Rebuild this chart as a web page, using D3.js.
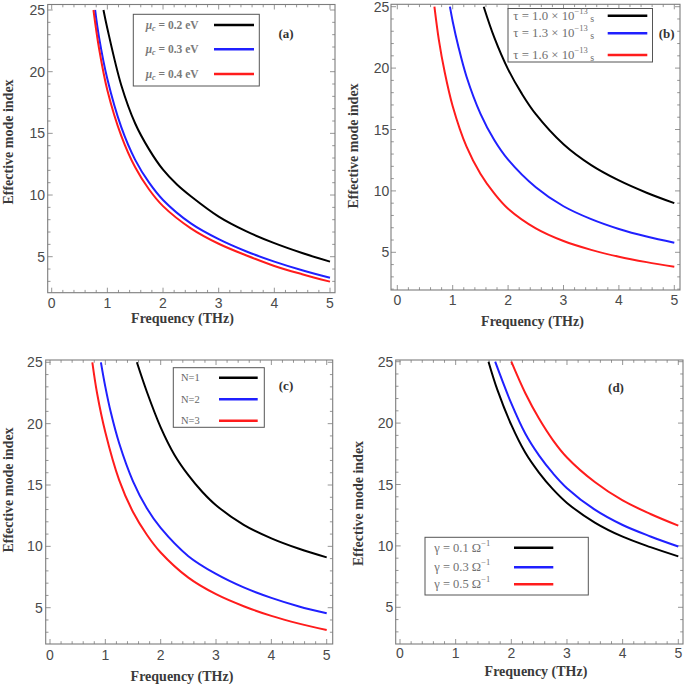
<!DOCTYPE html>
<html><head><meta charset="utf-8">
<script src="https://cdn.jsdelivr.net/npm/d3@7"></script>
<style>body{margin:0;background:#fff}</style>
</head><body>
<svg id="chart" width="685" height="684"></svg>
<script>
// ---------- data ----------
const xTicks = [0, 1, 2, 3, 4, 5];
const yTicks = [5, 10, 15, 20, 25];
const xTitle = "Frequency (THz)";
const yTitle = "Effective mode index";
const panelTags = ["(a)", "(b)", "(c)", "(d)"];

// (a) chemical potential
const aValues = ["0.2", "0.3", "0.4"];
const a_mu02 = [[0.93,25],[1.0,23.5],[1.25,18.9],[1.5,15.8],[1.75,13.7],[2,12.05],[2.25,10.85],[2.5,9.9],[3,8.25],[3.5,7.05],[4,6.1],[4.5,5.3],[5,4.6]];
const a_mu03 = [[0.78,25],[0.85,22.8],[1,19.4],[1.25,15.5],[1.5,12.85],[1.75,11.0],[2,9.6],[2.5,7.7],[3,6.42],[3.5,5.42],[4,4.6],[4.5,3.9],[5,3.3]];
const a_mu04 = [[0.75,25],[0.85,21.9],[1,18.5],[1.25,14.8],[1.5,12.25],[1.75,10.45],[2,9.1],[2.5,7.3],[3,6.05],[3.5,5.1],[4,4.25],[4.5,3.58],[5,2.98]];

// (b) relaxation time
const bValues = ["1.0", "1.3", "1.6"];
const b_tau10 = [[1.56,25],[1.75,22.5],[2,19.9],[2.25,17.9],[2.5,16.25],[3,13.8],[3.5,12.1],[4,10.85],[4.5,9.85],[5,9.0]];
const b_tau13 = [[0.95,25],[1,23.8],[1.1,21.8],[1.25,19.3],[1.5,16.3],[1.75,14.15],[2,12.55],[2.5,10.3],[3,8.75],[3.5,7.7],[4,6.9],[4.5,6.28],[5,5.78]];
const b_tau16 = [[0.67,25],[0.75,22.3],[0.85,19.8],[1,16.9],[1.25,13.6],[1.5,11.4],[1.75,9.8],[2,8.55],[2.5,6.95],[3,5.92],[3.5,5.2],[4,4.64],[4.5,4.2],[5,3.83]];

// (c) number of layers
const cValues = ["1", "2", "3"];
const c_N1 = [[1.57,25],[1.75,22.6],[2,19.7],[2.25,17.45],[2.5,15.8],[2.75,14.45],[3,13.35],[3.5,11.75],[4,10.65],[4.5,9.8],[5,9.1]];
const c_N2 = [[0.92,25],[1,23.0],[1.1,20.9],[1.25,18.4],[1.5,15.3],[1.75,13.1],[2,11.5],[2.5,9.2],[3,7.75],[3.5,6.65],[4,5.8],[4.5,5.1],[5,4.54]];
const c_N3 = [[0.765,25],[0.85,22.5],[1,19.3],[1.25,15.4],[1.5,12.8],[1.75,10.95],[2,9.5],[2.5,7.45],[3,6.1],[3.5,5.12],[4,4.33],[4.5,3.7],[5,3.18]];

// (d) conductance
const dValues = ["0.1", "0.3", "0.5"];
const d_g01 = [[1.59,25],[1.75,22.7],[2,19.85],[2.25,17.6],[2.5,15.95],[2.75,14.6],[3,13.5],[3.5,11.9],[4,10.75],[4.5,9.9],[5,9.15]];
const d_g03 = [[1.71,25],[2,21.6],[2.25,19.15],[2.5,17.35],[2.75,15.9],[3,14.7],[3.5,12.95],[4,11.7],[4.5,10.77],[5,9.95]];
const d_g05 = [[2.0,25],[2.25,22.45],[2.5,20.35],[2.75,18.6],[3,17.2],[3.5,15.2],[4,13.7],[4.5,12.6],[5,11.65]];

const seriesColors = ["#000000", "#2020ff", "#ff1c1c"];

// ---------- layout ----------
const layouts = [
  {x0:51.7, x5:330, y25:10, y5:256.7, frame:[47.7,4.5,335,292.7], yLabRight:45, xLabY:303,
   xT:[182.5,318], yT:[8.3,142], tag:[286,33], box:[133.3,14.3,259.3,86], lx:[214,254], rows:[25,49.3,74], tx:145.7},
  {x0:397.3, x5:674.3, y25:6.7, y5:252.3, frame:[391,4.3,680,290], yLabRight:389.3, xLabY:300,
   xT:[532.5,321.7], yT:[353.3,146], tag:[666.7,33.3], box:[508,8.5,652.5,62], lx:[607.7,647.3], rows:[15.7,33.3,55], tx:513.3},
  {x0:50, x5:326.7, y25:362.3, y5:607.7, frame:[45.7,360,332.7,644], yLabRight:42.7, xLabY:655,
   xT:[182,676.7], yT:[8.3,490], tag:[286,385], box:[173.3,367.7,264.3,427.3], lx:[219,257.7], rows:[377.7,399.3,420.7], tx:181},
  {x0:400, x5:678.3, y25:361.7, y5:607.3, frame:[395.7,360,683,644], yLabRight:393.3, xLabY:653.3,
   xT:[536,671], yT:[358.3,503.5], tag:[616,387.7], box:[425,537.3,588.3,595], lx:[514,553.3], rows:[547.7,567.3,584.3], tx:434.3}
];

const panelSeries = [[a_mu02,a_mu03,a_mu04],[b_tau10,b_tau13,b_tau16],[c_N1,c_N2,c_N3],[d_g01,d_g03,d_g05]];
const panelValues = [aValues, bValues, cValues, dValues];

const svg = d3.select("#chart");
const serif = "'Liberation Serif','DejaVu Serif',serif";
const sans = "'Liberation Sans',Arial,sans-serif";

function legendText(g, p, i, val) {
  if (p === 0) {
    g.attr("font-size", 11.5).attr("font-weight", "bold").attr("fill", "#7a7a7a");
    g.append("tspan").attr("font-style", "italic").text("μ");
    g.append("tspan").attr("font-style", "italic").attr("font-size", 8).attr("dy", 2.5).text("c");
    g.append("tspan").attr("dy", -2.5).text(" = " + val + " eV");
  } else if (p === 1) {
    g.attr("font-size", 12.8).attr("fill", "#707070");
    g.append("tspan").text("τ = " + val + " × 10");
    g.append("tspan").attr("font-size", 8.5).attr("dy", -5).text("−13");
    g.append("tspan").attr("font-size", 10).attr("dy", 7).text(" s");
  } else if (p === 2) {
    g.attr("font-size", 10.5).attr("fill", "#666");
    g.text("N=" + val);
  } else {
    g.attr("font-size", 12.5).attr("fill", "#707070");
    g.append("tspan").text("γ = " + val + "  Ω");
    g.append("tspan").attr("font-size", 8.5).attr("dy", -5).text("−1");
  }
}

layouts.forEach((L, p) => {
  const x = d3.scaleLinear().domain([0, 5]).range([L.x0, L.x5]);
  const y = d3.scaleLinear().domain([5, 25]).range([L.y5, L.y25]);
  const [fl, ft, fr, fb] = L.frame;
  const g = svg.append("g");

  g.append("clipPath").attr("id", "clip" + p)
    .append("rect").attr("x", fl).attr("y", ft).attr("width", fr - fl).attr("height", fb - ft);

  // ticks (inward, all four sides)
  const xMinor = d3.range(0, 5.001, 0.2).filter(v => x(v) > fl && x(v) < fr);
  const yMinor = d3.range(2, 26, 1).filter(v => y(v) < fb && y(v) > ft);
  const tickG = g.append("g").attr("stroke", "#8a8a8a").attr("stroke-width", 0.9);
  xMinor.forEach(v => {
    const major = Math.abs(v - Math.round(v)) < 1e-6;
    const len = major ? 5 : 2.8;
    tickG.append("line").attr("x1", x(v)).attr("x2", x(v)).attr("y1", fb).attr("y2", fb - len);
    tickG.append("line").attr("x1", x(v)).attr("x2", x(v)).attr("y1", ft).attr("y2", ft + len);
  });
  yMinor.forEach(v => {
    const major = v % 5 === 0;
    const len = major ? 5 : 2.8;
    tickG.append("line").attr("y1", y(v)).attr("y2", y(v)).attr("x1", fl).attr("x2", fl + len);
    tickG.append("line").attr("y1", y(v)).attr("y2", y(v)).attr("x1", fr).attr("x2", fr - len);
  });

  // frame
  g.append("rect").attr("x", fl).attr("y", ft).attr("width", fr - fl).attr("height", fb - ft)
    .attr("fill", "none").attr("stroke", "#7d7d7d").attr("stroke-width", 1.1);

  // tick labels
  g.selectAll(".xl").data(xTicks).join("text")
    .attr("x", d => x(d)).attr("y", L.xLabY).attr("text-anchor", "middle")
    .attr("dominant-baseline", "central").attr("font-family", sans).attr("font-size", 14)
    .attr("fill", "#4a4a4a").text(d => d);
  g.selectAll(".yl").data(yTicks).join("text")
    .attr("x", L.yLabRight).attr("y", d => y(d)).attr("text-anchor", "end")
    .attr("dominant-baseline", "central").attr("font-family", sans).attr("font-size", 14)
    .attr("fill", "#4a4a4a").text(d => d);

  // axis titles
  g.append("text").attr("x", L.xT[0]).attr("y", L.xT[1]).attr("text-anchor", "middle")
    .attr("dominant-baseline", "central").attr("font-family", serif).attr("font-weight", "bold")
    .attr("font-size", 14).attr("fill", "#3a3a3a").text(xTitle);
  g.append("text").attr("transform", `translate(${L.yT[0]},${L.yT[1]}) rotate(-90)`)
    .attr("text-anchor", "middle").attr("dominant-baseline", "central").attr("font-family", serif)
    .attr("font-weight", "bold").attr("font-size", 14).attr("fill", "#3a3a3a").text(yTitle);

  // curves
  const line = d3.line().x(d => x(d[0])).y(d => y(d[1])).curve(d3.curveCatmullRom.alpha(0.5));
  const curveG = g.append("g").attr("clip-path", `url(#clip${p})`);
  panelSeries[p].forEach((s, i) => {
    curveG.append("path").attr("d", line(s)).attr("fill", "none")
      .attr("stroke", seriesColors[i]).attr("stroke-width", 2);
  });

  // legend
  const [bl, bt, br, bb] = L.box;
  g.append("rect").attr("x", bl).attr("y", bt).attr("width", br - bl).attr("height", bb - bt)
    .attr("fill", "#fff").attr("stroke", "#555").attr("stroke-width", 1);
  panelValues[p].forEach((val, i) => {
    g.append("line").attr("x1", L.lx[0]).attr("x2", L.lx[1]).attr("y1", L.rows[i]).attr("y2", L.rows[i])
      .attr("stroke", seriesColors[i]).attr("stroke-width", 2.4);
    const t = g.append("text").attr("x", L.tx).attr("y", L.rows[i])
      .attr("dominant-baseline", "central").attr("font-family", serif);
    legendText(t, p, i, val);
  });

  // panel tag
  g.append("text").attr("x", L.tag[0]).attr("y", L.tag[1]).attr("text-anchor", "middle")
    .attr("dominant-baseline", "central").attr("font-family", serif).attr("font-weight", "bold")
    .attr("font-size", 13).attr("fill", "#333").text(panelTags[p]);
});
</script>
</body></html>
